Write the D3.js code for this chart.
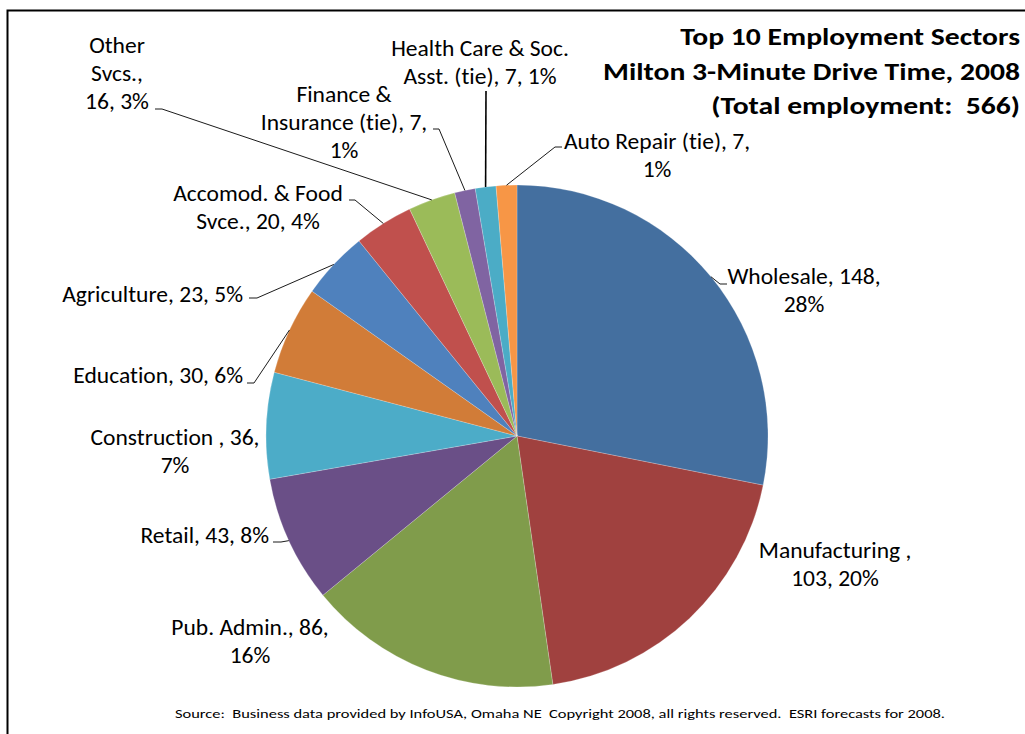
<!DOCTYPE html>
<html>
<head>
<meta charset="utf-8">
<script src="https://cdn.jsdelivr.net/npm/d3@7"></script>
<style>
  html, body { margin: 0; padding: 0; background: #fff; }
  svg { display: block; }
  text { font-family: Carlito, Lato, "Open Sans", sans-serif; fill: #000; white-space: pre;
         font-variant-ligatures: none; font-feature-settings: "liga" 0; }
</style>
</head>
<body>
<svg id="chart" width="1025" height="734"></svg>
<script>
// ---- data ----
const categories = ["Wholesale", "Manufacturing", "Pub. Admin.", "Retail", "Construction",
  "Education", "Agriculture", "Accomod. & Food Svce.", "Other Svcs.",
  "Finance & Insurance (tie)", "Health Care & Soc. Asst. (tie)", "Auto Repair (tie)"];
const values = [148, 103, 86, 43, 36, 30, 23, 20, 16, 7, 7, 7];
const percentLabels = ["28%", "20%", "16%", "8%", "7%", "6%", "5%", "4%", "3%", "1%", "1%", "1%"];
const labelLines = [
  ["Wholesale, 148,", "28%"],
  ["Manufacturing ,", "103, 20%"],
  ["Pub. Admin., 86,", "16%"],
  ["Retail, 43, 8%"],
  ["Construction , 36,", "7%"],
  ["Education, 30, 6%"],
  ["Agriculture, 23, 5%"],
  ["Accomod. & Food", "Svce., 20, 4%"],
  ["Other", "Svcs.,", "16, 3%"],
  ["Finance &", "Insurance (tie), 7,", "1%"],
  ["Health Care & Soc.", "Asst. (tie), 7, 1%"],
  ["Auto Repair (tie), 7,", "1%"]
];
const colors = ["#446f9f", "#a0413f", "#809c4b", "#6a4f87", "#4cacc8", "#d17c38",
  "#4f81bd", "#c0504d", "#9bbb59", "#8064a2", "#4bacc6", "#f79646"];
const titleLines = ["Top 10 Employment Sectors", "Milton 3-Minute Drive Time, 2008", "(Total employment:  566)"];
const sourceText = "Source:  Business data provided by InfoUSA, Omaha NE  Copyright 2008, all rights reserved.  ESRI forecasts for 2008.";

// ---- layout (label anchors: x, first baseline y, anchor, leader stub start/end) ----
const labelLayout = [
  {x: 804, y: 284, anchor: "middle", stub: [[727, 284], [720, 284]]},
  {x: 835, y: 558, anchor: "middle", stub: null},
  {x: 250, y: 635, anchor: "middle", stub: null},
  {x: 269, y: 543, anchor: "end", stub: [[273, 542], [281, 542]]},
  {x: 175, y: 445, anchor: "middle", stub: null},
  {x: 243, y: 383, anchor: "end", stub: [[247, 383], [254, 383]]},
  {x: 243, y: 302, anchor: "end", stub: [[249, 298], [257, 298]]},
  {x: 258, y: 201, anchor: "middle", stub: [[349, 200], [355, 200]]},
  {x: 117, y: 53, anchor: "middle", stub: [[155, 109], [162, 109]]},
  {x: 344, y: 102, anchor: "middle", stub: [[433, 129], [439, 129]]},
  {x: 480, y: 56, anchor: "middle", stub: [[486, 91], [486, 91]]},
  {x: 657, y: 149, anchor: "middle", stub: [[562, 147], [555, 147]]}
];
const lineHeight = 28;
const labelFont = 22, labelStretch = 1.07;
const titleFont = 24.5, titleStretch = 1.21;

const svg = d3.select("#chart");
const cx = 517, cy = 436, r = 251;

// border
svg.append("rect").attr("x", 7.5).attr("y", 10.5).attr("width", 1100).attr("height", 800)
  .attr("fill", "none").attr("stroke", "#000").attr("stroke-width", 2);

const pie = d3.pie().sort(null).value(d => d)(values);
const arc = d3.arc().innerRadius(0).outerRadius(r);

const g = svg.append("g").attr("transform", `translate(${cx},${cy})`);
g.selectAll("path.slice").data(pie).join("path")
  .attr("class", "slice")
  .attr("d", arc)
  .attr("fill", (d, i) => colors[i])
  .attr("stroke", "rgba(255,255,255,0.35)")
  .attr("stroke-width", 0.6);

// leader lines
const leaderG = svg.append("g");
pie.forEach((d, i) => {
  const L = labelLayout[i];
  if (!L.stub) return;
  const mid = (d.startAngle + d.endAngle) / 2;
  const px = cx + r * Math.sin(mid), py = cy - r * Math.cos(mid);
  const pts = [L.stub[0], L.stub[1], [px, py]];
  leaderG.append("path")
    .attr("d", d3.line()(pts))
    .attr("fill", "none")
    .attr("stroke", "#000")
    .attr("stroke-width", i === 10 ? 1.6 : 0.9);
});

// labels
const labelG = svg.append("g");
labelLines.forEach((lines, i) => {
  const L = labelLayout[i];
  const t = labelG.append("text")
    .attr("text-anchor", L.anchor)
    .attr("transform", `translate(${L.x},${L.y}) scale(${labelStretch},1)`)
    .style("font-size", labelFont + "px");
  lines.forEach((ln, j) => {
    t.append("tspan").attr("x", 0).attr("y", j * lineHeight).text(ln);
  });
});

// title
titleLines.forEach((ln, j) => {
  svg.append("text").attr("text-anchor", "end")
    .attr("transform", `translate(1020,${45 + j * 34.5}) scale(${titleStretch},1)`)
    .style("font-size", titleFont + "px").style("font-weight", "bold")
    .text(ln);
});

// source
svg.append("text").attr("x", 175).attr("y", 718)
  .attr("textLength", 770).attr("lengthAdjust", "spacingAndGlyphs")
  .style("font-size", "13px").text(sourceText);
</script>
</body>
</html>
